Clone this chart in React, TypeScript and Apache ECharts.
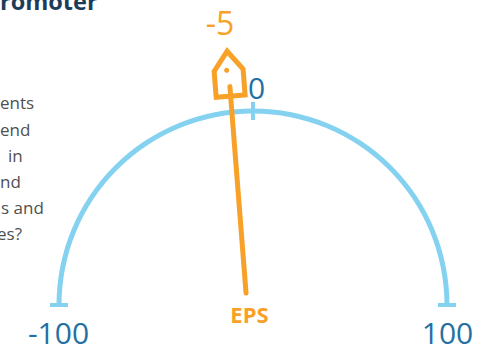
import React, { useEffect, useRef } from "react";
import * as echarts from "echarts";

// ---- data ----
const axisMin = -100;
const axisMax = 100;
const axisSplits = 2; // ticks at -100, 0, 100
const scoreName = "EPS";
const scoreValues = [-5];
const titleFragments = ["romoter"];
const paragraphFragments = ["ents", "end", "in", "nd", "s and", "es?"];
const paragraphOffsets = [0, 0, 8, 0, 1, -3];

const ORANGE = "#f7a128";
const ARC = "#84d2f0";
const LABEL = "#2470a4";
const FONT = "'Open Sans', sans-serif";

const CX = 253;
const CY = 305;
const R = 196.5;

const base = {
  type: "gauge",
  center: [CX, CY],
  radius: R,
  startAngle: 180,
  endAngle: 0,
  min: axisMin,
  max: axisMax,
  splitNumber: axisSplits,
  progress: { show: false },
  anchor: { show: false },
  axisTick: { show: false },
};

export default function App() {
  const ref = useRef<HTMLDivElement>(null);
  useEffect(() => {
    const chart = echarts.init(ref.current!, null, { renderer: "svg" });
    const graphics: any[] = [];
    titleFragments.forEach((t) => {
      graphics.push({
        type: "text",
        x: 0,
        y: 1,
        style: {
          text: t,
          font: `bold 23.5px ${FONT}`,
          fill: "#1c3d5a",
          textAlign: "left",
          textVerticalAlign: "middle",
        },
      });
    });
    paragraphFragments.forEach((t, i) => {
      graphics.push({
        type: "text",
        x: paragraphOffsets[i],
        y: 102.9 + 26.2 * i,
        style: {
          text: t,
          font: `17px ${FONT}`,
          fill: "#505050",
          textAlign: "left",
          textVerticalAlign: "middle",
        },
      });
    });

    chart.setOption({
      animation: false,
      graphic: graphics,
      series: [
        {
          ...base,
          axisLine: { show: true, lineStyle: { width: 5, color: [[1, ARC]] } },
          splitLine: { show: true, length: 18, distance: -11.5, lineStyle: { width: 4, color: ARC } },
          axisLabel: {
            show: true,
            distance: -37.5,
            color: LABEL,
            fontFamily: FONT,
            fontSize: 30,
            formatter: (v: number) => (v === 0 ? "{z|0}" : "{e|" + v + "}"),
            rich: {
              e: { width: 66, align: "center", fontSize: 30, fontFamily: FONT, color: LABEL, padding: [54, 0, 0, 0] },
              z: { fontSize: 30, fontFamily: FONT, color: LABEL, lineHeight: 19, padding: [0, 0, 0, 7] },
            },
          },
          pointer: { show: false },
          title: { show: false },
          detail: { show: false },
          data: scoreValues.map((v) => ({ value: v })),
        },
        {
          ...base,
          axisLine: { show: false },
          splitLine: { show: false },
          axisLabel: { show: false },
          pointer: {
            show: true,
            icon: "path://M15,0 L30,19 L30,45 L0,45 L0,19 Z",
            width: 29,
            length: 45,
            offsetCenter: [-6, -210],
            keepAspect: false,
          },
          itemStyle: { color: "#ffffff", borderColor: ORANGE, borderWidth: 5 },
          title: { show: false },
          detail: { show: false },
          data: scoreValues.map((v) => ({ value: v })),
        },
        {
          ...base,
          axisLine: { show: false },
          splitLine: { show: false },
          axisLabel: { show: false },
          pointer: {
            show: true,
            icon: "path://M2.5,0 A2.5,2.5 0 0 1 5,2.5 L5,209.5 A2.5,2.5 0 0 1 0,209.5 L0,2.5 A2.5,2.5 0 0 1 2.5,0 Z",
            width: 5,
            length: 212,
            offsetCenter: [-6, -10],
            keepAspect: false,
          },
          itemStyle: { color: ORANGE },
          title: {
            show: true,
            offsetCenter: [-3.5, 8.5],
            color: ORANGE,
            fontFamily: FONT,
            fontWeight: "bold",
            fontSize: 22,
          },
          detail: {
            show: true,
            offsetCenter: [-33, -282.5],
            color: ORANGE,
            fontFamily: FONT,
            fontSize: 32,
            fontWeight: "normal",
            formatter: "{value}",
          },
          data: scoreValues.map((v) => ({ value: v, name: scoreName })),
        },
        {
          ...base,
          axisLine: { show: false },
          splitLine: { show: false },
          axisLabel: { show: false },
          pointer: {
            show: true,
            icon: "circle",
            width: 5,
            length: 5,
            offsetCenter: [-8, -233.5],
          },
          itemStyle: { color: ORANGE },
          title: { show: false },
          detail: { show: false },
          data: scoreValues.map((v) => ({ value: v })),
        },
      ],
    });
    return () => chart.dispose();
  }, []);
  return (
    <div
      ref={ref}
      style={{ position: "absolute", left: 0, top: 0, width: 491, height: 351, background: "#fff" }}
    />
  );
}
